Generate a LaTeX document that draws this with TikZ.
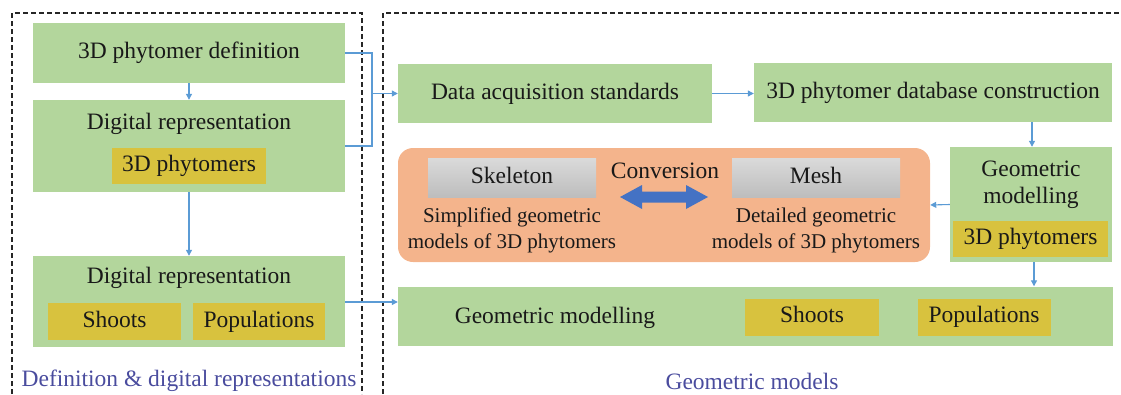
\documentclass[tikz,border=0pt]{standalone}
\usepackage{fontspec}
\setmainfont{Liberation Serif}
\usetikzlibrary{arrows.meta}
\definecolor{gfill}{HTML}{B3D69C}
\definecolor{yfill}{HTML}{D8C23E}
\definecolor{ofill}{HTML}{F4B48C}
\definecolor{grayA}{HTML}{DADADA}
\definecolor{grayB}{HTML}{BDBDBD}
\definecolor{arrblue}{HTML}{5B9BD5}
\definecolor{bigblue}{HTML}{4472C4}
\definecolor{lbl}{HTML}{4A4C9E}
\tikzset{
  every node/.style={font=\rmfamily\fontsize{23.5}{26}\selectfont, text=black!90},
  gbox/.style={fill=gfill, draw=none, inner sep=0pt},
  ybox/.style={fill=yfill, draw=none, inner sep=0pt, text height=16pt, text depth=5pt},
  graybox/.style={top color=grayA, bottom color=grayB, draw=none, inner sep=0pt, text height=16pt, text depth=5pt},
  txt/.style={inner sep=0pt, align=center},
  small/.style={font=\rmfamily\fontsize{21}{26}\selectfont},
  conn/.style={draw=arrblue, line width=1.1pt, -{Triangle[width=6pt,length=6pt]}},
  plain/.style={draw=arrblue, line width=1.1pt},
  frame/.style={draw=black!85, line width=1.3pt, dash pattern=on 5pt off 3pt},
  lab/.style={text=lbl, inner sep=0pt}
}
\begin{document}
\begin{tikzpicture}[x=1pt,y=-1pt]
\useasboundingbox (0,0) rectangle (1121,394);
% frames
\draw[frame] (12,394) -- (12,13) -- (362,13) -- (362,394);
\draw[frame] (383,394) -- (383,13) -- (1121,13);
% left column
\node[gbox, minimum width=312pt, minimum height=60pt] (def) at (189,53) {};
\node[txt] (deft) at (189,53) {3D phytomer definition};
\node[gbox, minimum width=312pt, minimum height=92pt] (dr1) at (189,146) {};
\node[txt] (dr1t) at (189,124) {Digital representation};
\node[ybox, minimum width=154pt, minimum height=36pt] (ph1) at (189,166) {3D phytomers};
\node[gbox, minimum width=312pt, minimum height=91pt] (dr2) at (189,301.5) {};
\node[txt] (dr2t) at (189,278) {Digital representation};
\node[ybox, minimum width=133pt, minimum height=37pt] (sh1) at (114.5,321.5) {Shoots};
\node[ybox, minimum width=132pt, minimum height=37pt] (po1) at (259,321.5) {Populations};
\node[lab] (l1) at (189,381) {Definition \& digital representations};
% right part
\node[gbox, minimum width=314pt, minimum height=59pt] (daq) at (555,93.5) {Data acquisition standards};
\node[gbox, minimum width=358pt, minimum height=59pt] (db) at (933,92.5) {3D phytomer database construction};
\node[gbox, minimum width=162pt, minimum height=115pt] (gm) at (1031,204.5) {};
\node[txt, font=\rmfamily\fontsize{23.5}{27}\selectfont] (gmt) at (1031,185) {Geometric\\modelling};
\node[ybox, minimum width=155pt, minimum height=36pt] (ph2) at (1030.5,239) {3D phytomers};
\node[fill=ofill, draw=none, rounded corners=15pt, minimum width=532pt, minimum height=114pt, inner sep=0pt] (conv) at (664,205) {};
\node[graybox, minimum width=168pt, minimum height=39pt] (sk) at (512,177.5) {Skeleton};
\node[graybox, minimum width=168pt, minimum height=39pt] (me) at (816,177.5) {Mesh};
\node[txt, small] (skt) at (512,230) {Simplified geometric\\models of 3D phytomers};
\node[txt, small] (met) at (816,230) {Detailed geometric\\models of 3D phytomers};
\node[txt] (cv) at (665,171) {Conversion};
\fill[bigblue] (620,197) -- (642,185) -- (642,191.5) -- (686,191.5) -- (686,185) -- (708,197) -- (686,209) -- (686,202.5) -- (642,202.5) -- (642,209) -- cycle;
\node[gbox, minimum width=715pt, minimum height=59pt] (bot) at (755.5,316) {};
\node[txt] (bott) at (555,318) {Geometric modelling};
\node[ybox, minimum width=134pt, minimum height=37pt] (sh2) at (812,317) {Shoots};
\node[ybox, minimum width=133pt, minimum height=37pt] (po2) at (984,317) {Populations};
\node[lab] (l2) at (752,381) {Geometric models};
% connectors
\draw[conn] (def.south) -- (dr1.north);
\draw[conn] (dr1.south) -- (dr2.north);
\coordinate (j1) at (372,53);
\coordinate (j2) at (372,146);
\coordinate (jm) at (372,93.5);
\draw[plain] (def.east) -- (j1) -- (j2) -- (dr1.east |- j2);
\draw[conn] (jm) -- (daq.west);
\draw[conn] (daq.east) -- (db.west |- daq.east);
\draw[conn] (db.south -| 1032,0) -- (gm.north -| 1032,0);
\draw[conn] (gm.west) -- (conv.east);
\draw[conn] (gm.south -| 1034,0) -- (bot.north -| 1034,0);
\draw[conn] (dr2.east |- 0,302) -- (bot.west |- 0,302);
\end{tikzpicture}
\end{document}
